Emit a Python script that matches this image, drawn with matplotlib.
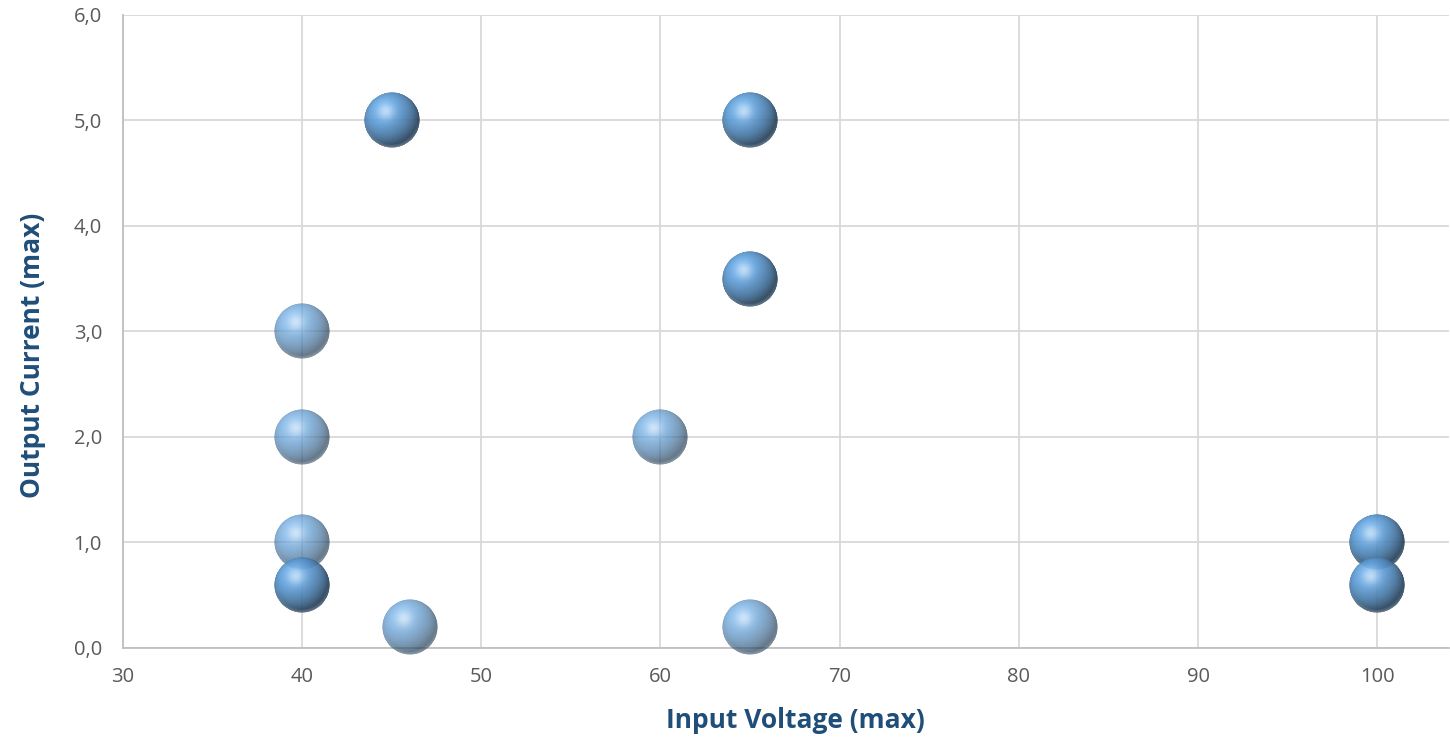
import numpy as np
import matplotlib.pyplot as plt
from matplotlib.offsetbox import OffsetImage, AnnotationBbox

plt.rcParams['font.family'] = ['Open Sans', 'DejaVu Sans']

# Data points (repeated entries sit on the same spot)
input_voltage = [40, 40, 40, 40, 40, 45, 45, 46, 60, 65, 65, 65, 65, 65, 100, 100, 100, 100]
output_current = [3.0, 2.0, 1.0, 0.6, 0.6, 5.0, 5.0, 0.2, 2.0, 5.0, 5.0, 3.5, 3.5, 0.2, 1.0, 1.0, 0.6, 0.6]

y_ticks = [0, 1, 2, 3, 4, 5, 6]
y_tick_labels = ["0,0", "1,0", "2,0", "3,0", "4,0", "5,0", "6,0"]
x_ticks = [30, 40, 50, 60, 70, 80, 90, 100]


def sphere_sprite(n=120, base=(0.36, 0.61, 0.84), alpha=0.7):
    # shaded ball as an RGBA image
    v = np.linspace(-1, 1, n)
    xx, yy = np.meshgrid(v, -v)
    rr = xx ** 2 + yy ** 2
    inside = rr <= 1.0
    zz = np.sqrt(np.clip(1 - rr, 0, 1))
    light = np.array([-0.35, 0.45, 0.82])
    light = light / np.linalg.norm(light)
    diff = np.clip(xx * light[0] + yy * light[1] + zz * light[2], 0, 1)
    shade = 0.42 + 0.68 * diff
    # soft specular spot
    hx, hy = -0.22, 0.32
    spec = np.exp(-((xx - hx) ** 2 + (yy - hy) ** 2) / 0.09)
    # faint rim light at the bottom
    rim = np.clip((rr - 0.75) / 0.25, 0, 1) * np.clip(-yy, 0, 1) * 0.3
    base = np.array(base)
    rgb = base[None, None, :] * shade[..., None]
    rgb = rgb + (1 - rgb) * (0.55 * spec + rim)[..., None]
    rgb = np.clip(rgb, 0, 1)
    a = np.zeros((n, n))
    edge = np.clip((1.0 - np.sqrt(rr)) * n / 2.0, 0, 1)
    a[inside] = alpha * edge[inside]
    return np.dstack([rgb, a])


fig = plt.figure(figsize=(14.5, 7.38), dpi=100)
ax = fig.add_axes([0.0847, 0.122, 0.9146, 0.8577])

ax.set_xlim(30, 104)
ax.set_ylim(0, 6)
ax.set_xticks(x_ticks)
ax.set_yticks(y_ticks)
ax.set_yticklabels(y_tick_labels)
ax.grid(True, color="#d9d9d9", linewidth=1.3)
ax.set_axisbelow(True)
ax.tick_params(length=0, labelsize=14.5, labelcolor="#595959")
ax.tick_params(axis="y", pad=15)
ax.tick_params(axis="x", pad=14)
for side in ["top", "right"]:
    ax.spines[side].set_visible(False)
for side in ["left", "bottom"]:
    ax.spines[side].set_color("#bfbfbf")
    ax.spines[side].set_linewidth(1.3)

sprite = sphere_sprite()
for xv, yv in zip(input_voltage, output_current):
    im = OffsetImage(sprite, zoom=56 / 120 * 72 / 100)
    ab = AnnotationBbox(im, (xv, yv), frameon=False, pad=0, annotation_clip=False)
    ax.add_artist(ab)

ax.set_xlabel("Input Voltage (max)", fontsize=19, fontweight="bold", color="#1f4e79")
ax.set_ylabel("Output Current (max)", fontsize=19, fontweight="bold", color="#1f4e79")
ax.xaxis.set_label_coords(0.507, -0.093)
ax.yaxis.set_label_coords(-0.058, 0.463)

fig.savefig("out.png", dpi=100)
